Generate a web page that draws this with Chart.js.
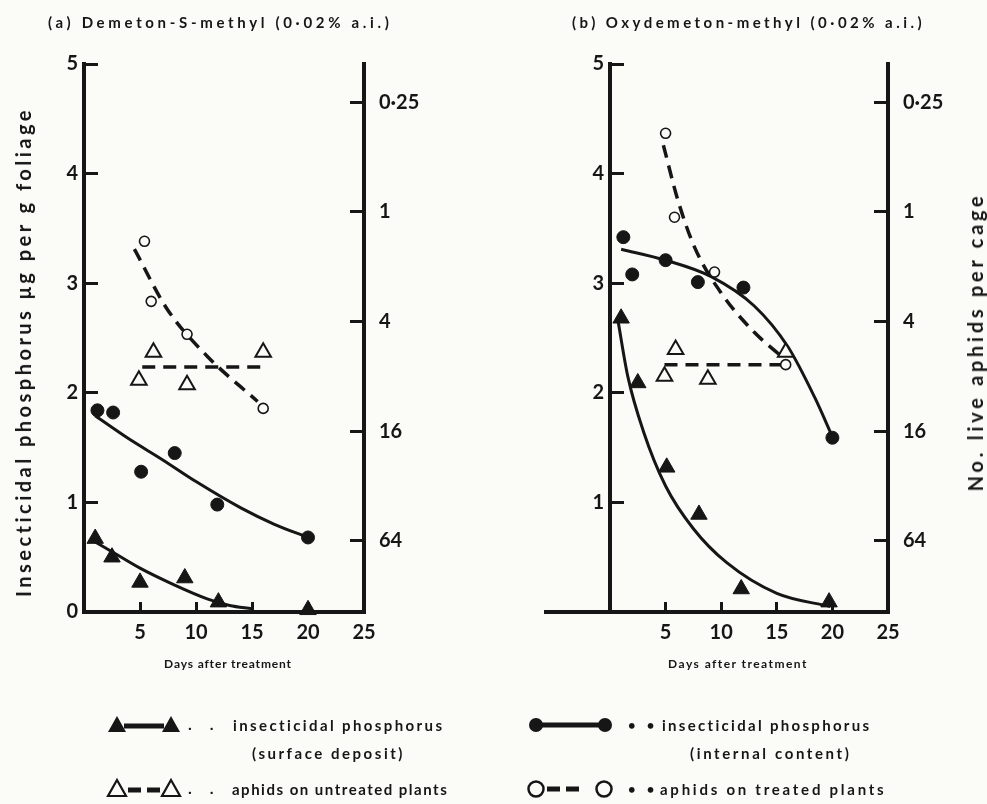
<!DOCTYPE html>
<html>
<head>
<meta charset="utf-8">
<title>Insecticidal phosphorus and aphids</title>
<script src="https://cdn.jsdelivr.net/npm/chart.js@4.4.1/dist/chart.umd.min.js"></script>
<style>
  body { margin: 0; background: #fbfbf8; }
  #page { position: relative; width: 987px; height: 804px; overflow: hidden; color: #161616; font-family: Lato, sans-serif; font-weight: bold; }
  .panel { position: absolute; top: 0; width: 493px; height: 675px; }
  .t { position: absolute; white-space: nowrap; line-height: 1; }
  .rot { transform: translate(-50%, -50%) rotate(-90deg); }
  .mid { transform: translateY(-50%); }
  .ctr { transform: translate(-50%, -50%); }
  #legend { position: absolute; left: 0; top: 690px; }
</style>
</head>
<body>
<div id="page">
  <div class="panel" style="left:0"><canvas id="chartA"></canvas></div>
  <div class="panel" style="left:494px"><canvas id="chartB"></canvas></div>
  <canvas id="legend" width="987" height="114"></canvas>

  <div class="t mid" data-w="344" style="left:48px;top:22px;font-size:15px">(a) Demeton-S-methyl (0·02% a.i.)</div>
  <div class="t mid" data-w="353" style="left:572px;top:22px;font-size:15px">(b) Oxydemeton-methyl (0·02% a.i.)</div>

  <div class="t rot" data-w="490" style="left:23px;top:352px;font-size:20px">Insecticidal phosphorus μg per g foliage</div>
  <div class="t rot" data-w="299" style="left:975px;top:342px;font-size:20px">No. live aphids per cage</div>

  <div class="t ctr" data-w="128" style="left:228px;top:664px;font-size:12px">Days after treatment</div>
  <div class="t ctr" data-w="140" style="left:738px;top:664px;font-size:12px">Days after treatment</div>

  <div class="t mid" style="left:188px;top:724px;font-size:16px;letter-spacing:7px">. .</div>
  <div class="t mid" data-w="212" style="left:233px;top:725px;font-size:15px">insecticidal phosphorus</div>
  <div class="t mid" data-w="153" style="left:252px;top:753px;font-size:15px">(surface deposit)</div>
  <div class="t mid" style="left:188px;top:788px;font-size:16px;letter-spacing:7px">. .</div>
  <div class="t mid" data-w="216" style="left:232px;top:789px;font-size:15px">aphids on untreated plants</div>

  <div class="t mid" style="left:628px;top:725px;font-size:13px;letter-spacing:4px">• •</div>
  <div class="t mid" data-w="210" style="left:662px;top:725px;font-size:15px">insecticidal phosphorus</div>
  <div class="t mid" data-w="162" style="left:690px;top:753px;font-size:15px">(internal content)</div>
  <div class="t mid" style="left:628px;top:789px;font-size:13px;letter-spacing:4px">• •</div>
  <div class="t mid" data-w="226" style="left:660px;top:789px;font-size:15px">aphids on treated plants</div>
</div>

<script>
// ---- tick labels ----
const dayTicks = [0, 5, 10, 15, 20, 25];
const phosTicks = [0, 1, 2, 3, 4, 5];
const aphidTicks = [0.25, 1, 4, 16, 64];
const aphidTickLabels = ['0·25', '1', '4', '16', '64'];
// aphid axis (log, inverted) limits so that its ticks sit where the picture has them
const aphidMin = 0.154;
const aphidMax = 157.6;

// ---- (a) Demeton-S-methyl ----
const aSurfaceDays = [1, 2.5, 5, 9, 12, 20];
const aSurfaceP = [0.67, 0.5, 0.27, 0.31, 0.09, 0.02];
const aSurfaceFitDays = [1, 2.5, 5, 8, 11, 13, 15];
const aSurfaceFitP = [0.64, 0.55, 0.40, 0.25, 0.12, 0.06, 0.03];

const aInternalDays = [1.2, 2.6, 5.1, 8.1, 11.9, 20];
const aInternalP = [1.84, 1.82, 1.28, 1.45, 0.98, 0.68];
const aInternalFitDays = [1, 4, 7, 10, 14, 17, 20];
const aInternalFitP = [1.79, 1.58, 1.39, 1.19, 0.95, 0.80, 0.68];

const aTreatedDays = [5.4, 6, 9.2, 16];
const aTreatedAphids = [1.45, 3.1, 4.7, 12.0];
const aTreatedFitDays = [4.5, 7.4, 11, 15.5];
const aTreatedFitAphids = [1.6, 3.4, 6.2, 11.0];

const aUntreatedDays = [4.9, 6.2, 9.2, 16];
const aUntreatedAphids = [8.4, 5.9, 8.9, 5.9];
const aUntreatedFitDays = [5.2, 16.2];
const aUntreatedFitAphids = [7.1, 7.1];

// ---- (b) Oxydemeton-methyl ----
const bSurfaceDays = [1, 2.5, 5.1, 8, 11.8, 19.7];
const bSurfaceP = [2.68, 2.09, 1.32, 0.89, 0.21, 0.09];
const bSurfaceFitDays = [0.7, 1.6, 3, 5, 7.5, 10.5, 15, 19.8];
const bSurfaceFitP = [2.67, 2.15, 1.65, 1.15, 0.76, 0.45, 0.17, 0.05];

const bInternalDays = [1.2, 2, 5, 7.9, 12, 20];
const bInternalP = [3.42, 3.08, 3.21, 3.01, 2.96, 1.59];
const bInternalFitDays = [1, 5, 9.1, 13, 16, 18.4, 20];
const bInternalFitP = [3.31, 3.21, 3.06, 2.79, 2.42, 1.96, 1.60];

const bTreatedDays = [5, 5.8, 9.4, 15.8];
const bTreatedAphids = [0.37, 1.07, 2.14, 6.9];
const bTreatedFitDays = [4.8, 6.1, 7.6, 10, 13, 15.4];
const bTreatedFitAphids = [0.43, 0.86, 1.56, 2.79, 4.6, 6.2];

const bUntreatedDays = [4.9, 5.9, 8.8, 15.8];
const bUntreatedAphids = [8.0, 5.7, 8.3, 5.9];
const bUntreatedFitDays = [4.9, 15.7];
const bUntreatedFitAphids = [6.9, 6.9];

const ink = '#161616';
const paper = '#fbfbf8';
const numFont = { family: 'Lato', size: 20, weight: 'bold' };

function pts(xs, ys) {
    return xs.map((x, i) => ({ x: x, y: ys[i] }));
}

// x axis line in panel (b) runs out to the left of the y axis
const baseExtend = {
    id: 'baseExtend',
    afterDraw(chart, args, opts) {
        if (!opts.from) return;
        const { ctx, chartArea } = chart;
        ctx.save();
        ctx.strokeStyle = ink;
        ctx.lineWidth = 4;
        ctx.beginPath();
        ctx.moveTo(opts.from, chartArea.bottom);
        ctx.lineTo(chartArea.left, chartArea.bottom);
        ctx.stroke();
        ctx.restore();
    }
};

function marks(days, vals, axis, style) {
    return Object.assign({
        data: pts(days, vals), yAxisID: axis, showLine: false, order: 1, clip: false,
        borderColor: ink, backgroundColor: ink
    }, style);
}

function curve(days, vals, axis, dash) {
    return {
        data: pts(days, vals), yAxisID: axis, showLine: true, order: 2,
        pointRadius: 0, borderColor: ink, borderWidth: dash ? 3.5 : 3,
        borderDash: dash ? [13, 8] : [], cubicInterpolationMode: 'monotone', tension: 0.4
    };
}

const solidTri = { pointStyle: 'triangle', pointRadius: 9.5, borderWidth: 1 };
const solidDot = { pointStyle: 'circle', pointRadius: 6.5, borderWidth: 1 };
const openDot = { pointStyle: 'circle', pointRadius: 5, borderWidth: 1.6, backgroundColor: paper };
const openTri = { pointStyle: 'triangle', pointRadius: 9, borderWidth: 2, backgroundColor: paper };

function axisGrid(len) {
    return { drawOnChartArea: false, drawTicks: true, tickLength: len, lineWidth: 3, color: ink };
}

function makePanel(id, d, layout) {
    return new Chart(document.getElementById(id), {
        type: 'scatter',
        data: { datasets: d },
        options: {
            responsive: true,
            maintainAspectRatio: false,
            animation: false,
            layout: { padding: { top: 64, left: 0, right: 0, bottom: 0 } },
            plugins: {
                legend: { display: false },
                tooltip: { enabled: false },
                baseExtend: { from: layout.baseFrom }
            },
            scales: {
                x: {
                    type: 'linear', min: 0, max: 25,
                    afterBuildTicks: s => { s.ticks = dayTicks.map(v => ({ value: v })); },
                    ticks: { callback: v => v === 0 ? '' : String(v), padding: 19, font: numFont, color: ink, maxRotation: 0, autoSkip: false },
                    grid: axisGrid(-10),
                    border: { width: 4, color: ink },
                    afterFit: s => { s.height = 63; }
                },
                y: {
                    type: 'linear', position: 'left', min: 0, max: 5,
                    afterBuildTicks: s => { s.ticks = phosTicks.map(v => ({ value: v })); },
                    ticks: { callback: v => (v === 0 && !layout.zeroLabel) ? '' : String(v), padding: 20, font: numFont, color: ink },
                    grid: axisGrid(-14),
                    border: { width: 4, color: ink },
                    afterFit: s => { s.width = layout.leftW; }
                },
                y2: {
                    type: 'logarithmic', position: 'right', reverse: true, min: aphidMin, max: aphidMax,
                    afterBuildTicks: s => { s.ticks = aphidTicks.map(v => ({ value: v })); },
                    ticks: { callback: (v, i) => aphidTickLabels[i], padding: 29, font: numFont, color: ink },
                    grid: axisGrid(-14),
                    border: { width: 4, color: ink },
                    afterFit: s => { s.width = layout.rightW; }
                }
            }
        },
        plugins: [baseExtend]
    });
}

makePanel('chartA', [
    marks(aSurfaceDays, aSurfaceP, 'y', solidTri),
    marks(aInternalDays, aInternalP, 'y', solidDot),
    marks(aTreatedDays, aTreatedAphids, 'y2', openDot),
    marks(aUntreatedDays, aUntreatedAphids, 'y2', openTri),
    curve(aSurfaceFitDays, aSurfaceFitP, 'y', false),
    curve(aInternalFitDays, aInternalFitP, 'y', false),
    curve(aTreatedFitDays, aTreatedFitAphids, 'y2', true),
    curve(aUntreatedFitDays, aUntreatedFitAphids, 'y2', true)
], { leftW: 84, rightW: 129, zeroLabel: true, baseFrom: 0 });

makePanel('chartB', [
    marks(bSurfaceDays, bSurfaceP, 'y', solidTri),
    marks(bInternalDays, bInternalP, 'y', solidDot),
    marks(bTreatedDays, bTreatedAphids, 'y2', openDot),
    marks(bUntreatedDays, bUntreatedAphids, 'y2', openTri),
    curve(bSurfaceFitDays, bSurfaceFitP, 'y', false),
    curve(bInternalFitDays, bInternalFitP, 'y', false),
    curve(bTreatedFitDays, bTreatedFitAphids, 'y2', true),
    curve(bUntreatedFitDays, bUntreatedFitAphids, 'y2', true)
], { leftW: 116, rightW: 99, zeroLabel: false, baseFrom: 50 });

// stretch the lettering to the widths it has in the figure
document.querySelectorAll('[data-w]').forEach(el => {
    const target = +el.dataset.w;
    const n = el.textContent.length;
    const natural = el.offsetWidth;
    el.style.letterSpacing = ((target - natural) / n).toFixed(2) + 'px';
});

// legend keys
const lg = document.getElementById('legend').getContext('2d');
lg.strokeStyle = ink;
lg.fillStyle = ink;
function keyTri(x, y, filled) {
    lg.beginPath();
    lg.moveTo(x, y - 9);
    lg.lineTo(x + 9, y + 7);
    lg.lineTo(x - 9, y + 7);
    lg.closePath();
    if (filled) { lg.fill(); } else { lg.lineWidth = 2.2; lg.stroke(); }
}
function keyDot(x, y, r, filled) {
    lg.beginPath();
    lg.arc(x, y, r, 0, Math.PI * 2);
    if (filled) { lg.fill(); } else { lg.lineWidth = 2.5; lg.stroke(); }
}
function keyLine(x1, x2, y, dash) {
    lg.save();
    lg.lineWidth = 5;
    lg.setLineDash(dash ? [13, 6] : []);
    lg.beginPath();
    lg.moveTo(x1, y);
    lg.lineTo(x2, y);
    lg.stroke();
    lg.restore();
}
keyLine(124, 164, 36, false); keyTri(117, 35, true); keyTri(171, 35, true);
keyLine(128, 162, 100, true); keyTri(117, 99, false); keyTri(171, 99, false);
keyLine(540, 600, 35, false); keyDot(536, 35, 7, true); keyDot(605, 35, 7, true);
keyLine(547, 584, 99, true); keyDot(536, 99, 7.5, false); keyDot(604, 99, 7.5, false);
</script>
</body>
</html>
